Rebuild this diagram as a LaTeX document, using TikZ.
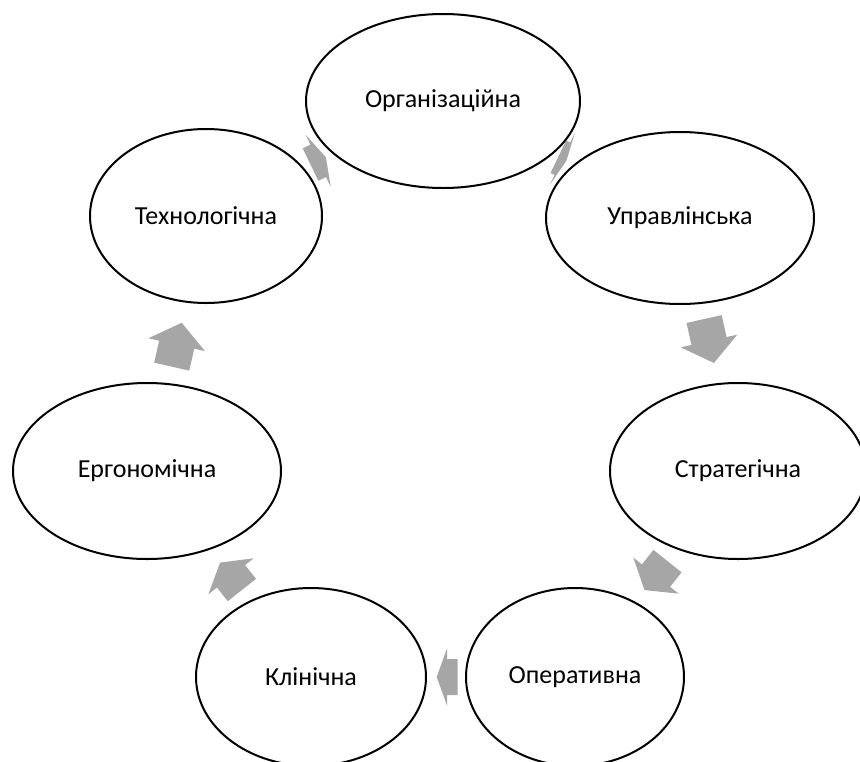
\documentclass[tikz,border=0pt]{standalone}
\usepackage{fontspec}
\setmainfont{Carlito}
\usetikzlibrary{shapes.geometric}
\definecolor{arrgray}{RGB}{166,166,166}
\tikzset{
  cyc/.style={ellipse, draw=black, line width=2pt, fill=white, inner sep=0pt,
              font=\fontsize{26}{30}\selectfont},
  blk/.style={fill=arrgray, draw=none}
}
\newcommand{\blkarrow}[4]{%
  \begin{scope}[shift={(#1,#2)}, rotate=-#3]
    \fill[blk] (-#4/2,-18) -- (0,-18) -- (0,-29) -- (#4/2,0) -- (0,29) -- (0,18) -- (-#4/2,18) -- cycle;
  \end{scope}}
\begin{document}
\begin{tikzpicture}[x=1pt,y=-1pt]
\useasboundingbox (0,0) rectangle (860,761);
\clip (0,0) rectangle (860,761);
% block arrows (drawn first, ellipses drawn over them)
\blkarrow{318.2}{160.9}{334.3}{17}
\blkarrow{562.4}{158.7}{25.7}{9}
\blkarrow{709}{341}{77.4}{45}
\blkarrow{656}{575.6}{128.5}{37}
\blkarrow{447.2}{677}{180}{21}
\blkarrow{231}{576.3}{231.5}{35}
\blkarrow{176.7}{344.7}{282.8}{45}
% ellipses
\node[cyc, minimum width=274pt, minimum height=174pt] (e1) at (443,101) {Організаційна};
\node[cyc, minimum width=268pt, minimum height=172pt] (e2) at (680,218) {Управлінська};
\node[cyc, minimum width=256pt, minimum height=176pt] (e3) at (738,471) {Стратегічна};
\node[cyc, minimum width=218pt, minimum height=178pt] (e4) at (575,677) {Оперативна};
\node[cyc, minimum width=230pt, minimum height=178pt] (e5) at (311,677) {Клінічна};
\node[cyc, minimum width=268pt, minimum height=176pt] (e6) at (147,471) {Ергономічна};
\node[cyc, minimum width=232pt, minimum height=174pt] (e7) at (206,216) {Технологічна};
\end{tikzpicture}
\end{document}
